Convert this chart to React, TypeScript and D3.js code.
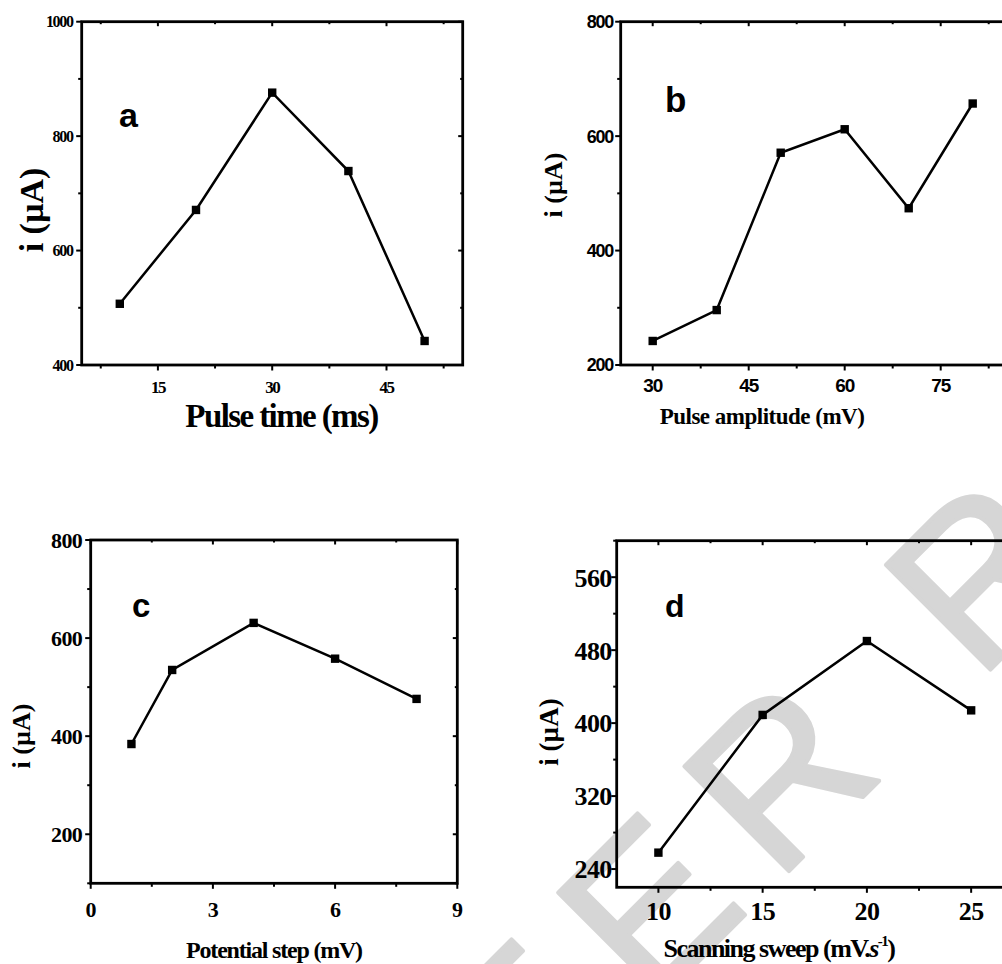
import React from 'react';
import * as d3 from 'd3';

// ---------- data ----------
const aX = [10, 20, 30, 40, 50];
const aY = [507, 671, 876, 739, 442];
const aXTicks = [15, 30, 45];
const aXMinor = [7.5, 22.5, 37.5, 52.5];
const aYTicks = [400, 600, 800, 1000];
const aYMinor = [500, 700, 900];

const bX = [30, 40, 50, 60, 70, 80];
const bY = [242, 296, 571, 612, 474, 657];
const bXTicks = [30, 45, 60, 75];
const bXMinor = [37.5, 52.5, 67.5, 82.5];
const bYTicks = [200, 400, 600, 800];
const bYMinor = [300, 500, 700];

const cX = [1, 2, 4, 6, 8];
const cY = [384, 535, 631, 558, 476];
const cXTicks = [0, 3, 6, 9];
const cXMinor = [1.5, 4.5, 7.5];
const cYTicks = [200, 400, 600, 800];
const cYMinor = [100, 300, 500, 700];

const dX = [10, 15, 20, 25];
const dY = [258, 409, 490, 414];
const dXTicks = [10, 15, 20, 25];
const dXMinor = [12.5, 17.5, 22.5, 27.5];
const dYTicks = [240, 320, 400, 480, 560];
const dYMinor = [280, 360, 440, 520, 600];

const SERIF = '"Liberation Serif", "Times New Roman", serif';
const SANS = '"Liberation Sans", Arial, sans-serif';

type Cfg = {
  box: [number, number, number, number]; // left, top, right, bottom
  xDomain: [number, number];
  yDomain: [number, number];
  xs: number[];
  ys: number[];
  xTicks: number[];
  xMinor: number[];
  yTicks: number[];
  yMinor: number[];
  label: string;
  labelPos: [number, number];
  labelSize: number;
  tickFamily: string;
  yTickSize: number;
  yTickSpacing: number;
  yTickGap: number;
  xTickSize: number;
  xTickSpacing: number;
  xTickBase: number;
  yTitlePos: [number, number];
  yTitleSize: number;
  xTitle: React.ReactNode;
  xTitlePos: [number, number];
  xTitleSize: number;
  xTitleSpacing: number;
};

function Panel({ c }: { c: Cfg }) {
  const [L, T, R, B] = c.box;
  const x = d3.scaleLinear().domain(c.xDomain).range([L, R]);
  const y = d3.scaleLinear().domain(c.yDomain).range([B, T]);
  const pts = c.xs.map((v, i) => [x(v), y(c.ys[i])] as [number, number]);
  const path = d3.line()(pts) || '';
  const major = 5.5, minor = 3.5;
  return (
    <g>
      {/* ticks */}
      <g stroke="#000" strokeWidth={2}>
        {c.xTicks.map((t) => (
          <g key={'xt' + t}>
            <line x1={x(t)} x2={x(t)} y1={B} y2={B + major} />
            <line x1={x(t)} x2={x(t)} y1={T} y2={T + major - 1} />
          </g>
        ))}
        {c.xMinor.map((t) => (
          <g key={'xm' + t}>
            <line x1={x(t)} x2={x(t)} y1={B} y2={B + minor} />
            <line x1={x(t)} x2={x(t)} y1={T} y2={T + minor - 1} />
          </g>
        ))}
        {c.yTicks.map((t) => (
          <g key={'yt' + t}>
            <line x1={L - major} x2={L} y1={y(t)} y2={y(t)} />
            <line x1={R - major + 1} x2={R} y1={y(t)} y2={y(t)} />
          </g>
        ))}
        {c.yMinor.map((t) => (
          <g key={'ym' + t}>
            <line x1={L - minor} x2={L} y1={y(t)} y2={y(t)} />
            <line x1={R - minor + 1} x2={R} y1={y(t)} y2={y(t)} />
          </g>
        ))}
      </g>
      {/* frame */}
      <rect x={L} y={T} width={R - L} height={B - T} fill="none" stroke="#000" strokeWidth={2.8} />
      {/* tick labels */}
      <g fontFamily={c.tickFamily} fontWeight="bold" fill="#000">
        {c.yTicks.map((t) => (
          <text key={'yl' + t} x={L - c.yTickGap} y={y(t)} dy="0.36em" textAnchor="end"
            fontSize={c.yTickSize} letterSpacing={c.yTickSpacing}>{t}</text>
        ))}
        {c.xTicks.map((t) => (
          <text key={'xl' + t} x={x(t)} y={B + c.xTickBase} textAnchor="middle"
            fontSize={c.xTickSize} letterSpacing={c.xTickSpacing}>{t}</text>
        ))}
      </g>
      {/* data */}
      <path d={path} fill="none" stroke="#000" strokeWidth={2.5} strokeLinejoin="miter" />
      {pts.map(([px, py], i) => (
        <rect key={'p' + i} x={px - 4.2} y={py - 4.2} width={8.4} height={8.4} fill="#000" />
      ))}
      {/* panel letter */}
      <text x={c.labelPos[0]} y={c.labelPos[1]} fontFamily={SANS} fontWeight="bold" fontSize={c.labelSize}>{c.label}</text>
      {/* titles */}
      <text transform={`translate(${c.yTitlePos[0]},${c.yTitlePos[1]}) rotate(-90)`} textAnchor="middle"
        fontFamily={SERIF} fontWeight="bold" fontSize={c.yTitleSize}>i (µA)</text>
      <text x={c.xTitlePos[0]} y={c.xTitlePos[1]} textAnchor="middle" fontFamily={SERIF} fontWeight="bold"
        fontSize={c.xTitleSize} letterSpacing={c.xTitleSpacing}>{c.xTitle}</text>
    </g>
  );
}

const panels: Cfg[] = [
  {
    box: [81.7, 21.7, 462.7, 365], xDomain: [5, 55], yDomain: [400, 1000],
    xs: aX, ys: aY, xTicks: aXTicks, xMinor: aXMinor, yTicks: aYTicks, yMinor: aYMinor,
    label: 'a', labelPos: [119, 127], labelSize: 34,
    tickFamily: SERIF, yTickSize: 16, yTickSpacing: -1.3, yTickGap: 9,
    xTickSize: 17, xTickSpacing: -1.5, xTickBase: 28,
    yTitlePos: [43, 210], yTitleSize: 34,
    xTitle: 'Pulse time (ms)', xTitlePos: [281.5, 427], xTitleSize: 33, xTitleSpacing: -1.6,
  },
  {
    box: [620.7, 21.7, 1036.7, 365], xDomain: [25, 90], yDomain: [200, 800],
    xs: bX, ys: bY, xTicks: bXTicks, xMinor: bXMinor, yTicks: bYTicks, yMinor: bYMinor,
    label: 'b', labelPos: [665, 112], labelSize: 35,
    tickFamily: SANS, yTickSize: 18, yTickSpacing: -1.2, yTickGap: 7.5,
    xTickSize: 19, xTickSpacing: -1.2, xTickBase: 27,
    yTitlePos: [562, 185], yTitleSize: 26,
    xTitle: 'Pulse amplitude (mV)', xTitlePos: [762, 424], xTitleSize: 23, xTitleSpacing: -0.5,
  },
  {
    box: [90.7, 540, 457.3, 883.3], xDomain: [0, 9], yDomain: [100, 800],
    xs: cX, ys: cY, xTicks: cXTicks, xMinor: cXMinor, yTicks: cYTicks, yMinor: cYMinor,
    label: 'c', labelPos: [132, 617], labelSize: 33,
    tickFamily: SERIF, yTickSize: 22, yTickSpacing: -0.6, yTickGap: 8.5,
    xTickSize: 22, xTickSpacing: -0.6, xTickBase: 34,
    yTitlePos: [30, 736], yTitleSize: 26,
    xTitle: 'Potential step (mV)', xTitlePos: [274, 958], xTitleSize: 24, xTitleSpacing: -1.2,
  },
  {
    box: [616.7, 540.7, 1033.7, 887.3], xDomain: [8, 28], yDomain: [220, 600],
    xs: dX, ys: dY, xTicks: dXTicks, xMinor: dXMinor, yTicks: dYTicks, yMinor: dYMinor,
    label: 'd', labelPos: [665, 617], labelSize: 32,
    tickFamily: SERIF, yTickSize: 26, yTickSpacing: -0.6, yTickGap: 5,
    xTickSize: 26, xTickSpacing: -0.6, xTickBase: 33,
    yTitlePos: [558, 732], yTitleSize: 27,
    xTitle: (
      <>
        Scanning sweep (mV.<tspan fontStyle="italic">s</tspan>
        <tspan fontSize={15} dy={-11}>-1</tspan>
        <tspan dy={11}>)</tspan>
      </>
    ),
    xTitlePos: [779, 957], xTitleSize: 26, xTitleSpacing: -1.5,
  },
];

export default function App() {
  return (
    <svg width={1002} height={964} viewBox="0 0 1002 964"
      style={{ position: 'absolute', left: 0, top: 0, background: '#fff' }}>
      <rect width={1002} height={964} fill="#fff" />
      <text transform="translate(398,1262) rotate(-45)" fontFamily={SANS} fontSize={215}
        letterSpacing={35} fill="#d6d6d6" stroke="#d6d6d6" strokeWidth={4}
        strokeLinejoin="round">PEER REVIEW</text>
      {panels.map((p, i) => <Panel key={i} c={p} />)}
    </svg>
  );
}
